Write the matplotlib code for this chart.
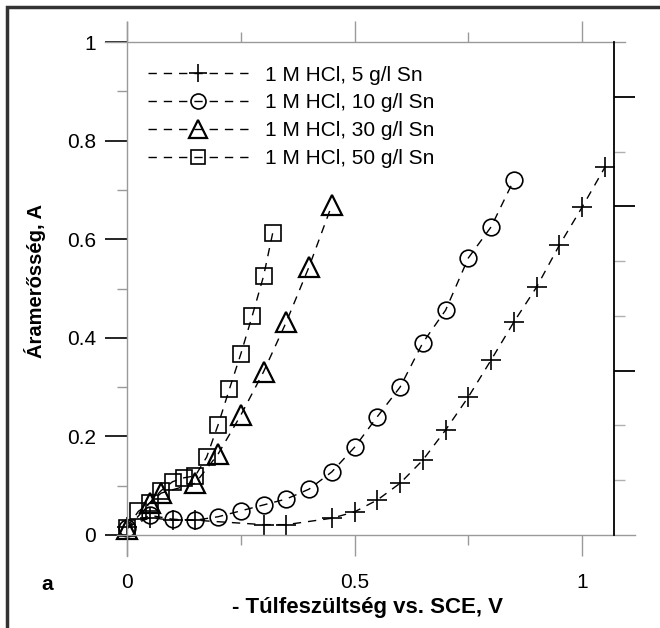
import matplotlib
matplotlib.use("Agg")
import matplotlib.pyplot as plt
from matplotlib.patches import Rectangle

plt.rcParams['font.family'] = ['Liberation Sans', 'DejaVu Sans']

# ---- data ----
labels = ["1 M HCl, 5 g/l Sn", "1 M HCl, 10 g/l Sn", "1 M HCl, 30 g/l Sn", "1 M HCl, 50 g/l Sn"]

x5 = [0, 0.05, 0.10, 0.15, 0.30, 0.35, 0.45, 0.50, 0.55, 0.60, 0.65, 0.70, 0.75,
      0.80, 0.85, 0.90, 0.95, 1.00, 1.05]
y5 = [0.016, 0.035, 0.03, 0.03, 0.021, 0.021, 0.034, 0.047, 0.071, 0.105, 0.152,
      0.213, 0.28, 0.355, 0.432, 0.503, 0.588, 0.665, 0.746]

x10 = [0, 0.05, 0.10, 0.15, 0.20, 0.25, 0.30, 0.35, 0.40, 0.45, 0.50, 0.55, 0.60,
       0.65, 0.70, 0.75, 0.80, 0.85]
y10 = [0.015, 0.04, 0.032, 0.03, 0.037, 0.049, 0.061, 0.073, 0.093, 0.128, 0.178,
       0.24, 0.30, 0.39, 0.456, 0.562, 0.625, 0.72]

x30 = [0, 0.05, 0.075, 0.15, 0.20, 0.25, 0.30, 0.35, 0.40, 0.45]
y30 = [0.012, 0.065, 0.085, 0.105, 0.164, 0.243, 0.331, 0.432, 0.544, 0.669]

x50 = [0, 0.025, 0.05, 0.075, 0.10, 0.125, 0.15, 0.175, 0.20, 0.225, 0.25, 0.275,
       0.30, 0.32]
y50 = [0.015, 0.048, 0.065, 0.09, 0.108, 0.116, 0.12, 0.158, 0.223, 0.296, 0.367,
       0.444, 0.525, 0.612]

xticks = [0, 0.5, 1]
xticklabels = ["0", "0.5", "1"]
yticks = [0, 0.2, 0.4, 0.6, 0.8, 1]
yticklabels = ["0", "0.2", "0.4", "0.6", "0.8", "1"]
right_major = [1/3, 2/3, 8/9]
right_minor = [1/9, 2/9, 4/9, 5/9, 7/9]

xlabel = "- Túlfeszültség vs. SCE, V"
ylabel = "Áramerősség, A"
panel = "a"

# ---- figure ----
W, H = 660, 628
fig = plt.figure(figsize=(W / 100, H / 100), dpi=100)
fig.patch.set_facecolor("white")
ax = fig.add_axes([127 / W, 1 - 535 / H, (614 - 127) / W, (535 - 42) / H])
ax.set_xlim(0, 1.07)
ax.set_ylim(0, 1)

ls = (0, (6, 5))
common = dict(color="black", lw=1.0, linestyle=ls, clip_on=False)
ax.plot(x5, y5, marker="+", ms=15, mew=1.2, label=labels[0], **common)
ax.plot(x10, y10, marker="o", ms=12, mew=1.2, mfc="none", label=labels[1], **common)
ax.plot(x30, y30, marker="^", ms=14, mew=1.6, mfc="none", label=labels[2], **common)
ax.plot(x50, y50, marker="s", ms=11, mew=1.2, mfc="none", label=labels[3], **common)

leg = ax.legend(loc="upper left", bbox_to_anchor=(0.043, 0.952), frameon=False,
                fontsize=15, handlelength=4.8, handletextpad=0.8, labelspacing=0.42,
                borderpad=0, borderaxespad=0, markerscale=0.9)

# spines
gray = "#9a9a9a"
ax.spines["left"].set_color(gray)
ax.spines["left"].set_bounds(-0.043, 1.04)
ax.spines["bottom"].set_color(gray)
ax.spines["bottom"].set_bounds(-0.022, 1.116)
ax.spines["top"].set_color(gray)
ax.spines["top"].set_bounds(-0.048, 1.095)
ax.spines["right"].set_visible(False)
for s in ("left", "bottom", "top"):
    ax.spines[s].set_linewidth(1.0)

# y ticks (left)
ax.set_yticks(yticks)
ax.set_yticklabels(yticklabels)
ax.set_yticks([0.1, 0.3, 0.5, 0.7, 0.9], minor=True)
ax.tick_params(axis="y", which="major", direction="out", length=16, width=1.2,
               color="black", labelsize=15, pad=6.5)
ax.tick_params(axis="y", which="minor", direction="out", length=7, width=1.0,
               color=gray)

# x ticks (bottom + top)
ax.set_xticks(xticks)
ax.set_xticklabels(xticklabels)
ax.set_xticks([0.25, 0.75], minor=True)
ax.tick_params(axis="x", which="major", direction="out", length=15, width=1.0,
               color=gray, labelsize=15, pad=12, top=True)
ax.tick_params(axis="x", which="minor", direction="out", length=7, width=1.0,
               color=gray, top=True)

# right axis with its own ticks
ax2 = ax.twinx()
ax2.set_ylim(0, 1)
for s in ("left", "top", "bottom"):
    ax2.spines[s].set_visible(False)
ax2.spines["right"].set_color("black")
ax2.spines["right"].set_linewidth(1.3)
ax2.set_yticks(right_major)
ax2.set_yticks(right_minor, minor=True)
ax2.set_yticklabels([])
ax2.tick_params(axis="y", which="major", direction="out", length=15, width=1.3,
                color="black")
ax2.tick_params(axis="y", which="minor", direction="out", length=8, width=1.0,
                color="#b0b0b0")
ax2.patch.set_visible(False)

# labels
ax.set_xlabel(xlabel, fontsize=16, fontweight="bold")
ax.xaxis.label.set_va("center")
ax.xaxis.set_label_coords((368 - 127) / 487, (535 - 607) / 493)
ax.set_ylabel(ylabel, fontsize=14.5, fontweight="bold")
ax.yaxis.label.set_va("center")
ax.yaxis.set_label_coords((35 - 127) / 487, (535 - 281) / 493)

fig.text(47 / W, 1 - 584 / H, panel, fontsize=15, fontweight="bold",
         ha="center", va="center")

# frame around the figure (cut off at right and bottom)
fig.patches.append(Rectangle((7 / W, -0.05), 1.2, 1.05 - 7 / H,
                             transform=fig.transFigure, fill=False,
                             lw=2.5, edgecolor="#333333"))

fig.savefig("out.png", dpi=100)
